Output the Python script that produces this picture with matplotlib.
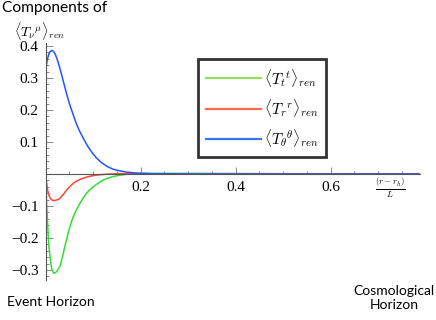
import matplotlib
matplotlib.use("Agg")
import matplotlib.pyplot as plt
from matplotlib.lines import Line2D
from matplotlib.ticker import MultipleLocator, FixedLocator

plt.rcParams['font.family'] = ['Liberation Serif', 'DejaVu Serif']
plt.rcParams['mathtext.fontset'] = 'cm'

# values
x_tt = [0, 0.001, 0.002, 0.004, 0.0055, 0.007, 0.009, 0.011, 0.0126, 0.015, 0.0175, 0.020,
        0.023, 0.026, 0.030, 0.033, 0.037, 0.040, 0.044, 0.047, 0.051, 0.055, 0.058, 0.065,
        0.072, 0.079, 0.086, 0.093, 0.100, 0.110, 0.121, 0.131, 0.142, 0.155, 0.170, 0.185,
        0.200, 0.300, 0.500, 0.788]
tt = [0, -0.045, -0.092, -0.155, -0.196, -0.23, -0.258, -0.28, -0.295, -0.306, -0.31, -0.309,
      -0.305, -0.298, -0.288, -0.272, -0.248, -0.228, -0.206, -0.185, -0.165, -0.146, -0.133, -0.111,
      -0.092, -0.075, -0.060, -0.049, -0.040, -0.029, -0.019, -0.013, -0.008, -0.004, -0.001, 0.001,
      0.002, 0.002, 0.001, 0.0005]

x_rr = [0, 0.001, 0.002, 0.004, 0.0055, 0.008, 0.011, 0.014, 0.0175, 0.021, 0.025, 0.030,
        0.037, 0.044, 0.051, 0.058, 0.065, 0.072, 0.079, 0.090, 0.100, 0.115, 0.135, 0.160,
        0.200, 0.400, 0.788]
rr = [0, -0.016, -0.03, -0.05, -0.06, -0.071, -0.078, -0.082, -0.083, -0.082, -0.080, -0.076,
      -0.064, -0.05, -0.039, -0.029, -0.022, -0.017, -0.013, -0.008, -0.005, -0.002, 0.0, 0.001,
      0.001, 0.0005, 0.0]

x_thth = [0, 0.003, 0.006, 0.009, 0.0125, 0.016, 0.020, 0.025, 0.030, 0.037, 0.045, 0.052,
          0.058, 0.065, 0.072, 0.079, 0.088, 0.097, 0.107, 0.118, 0.130, 0.142, 0.155, 0.170,
          0.190, 0.220, 0.300, 0.788]
thth = [0.325, 0.355, 0.372, 0.382, 0.386, 0.384, 0.375, 0.355, 0.330, 0.290, 0.245, 0.210,
        0.185, 0.155, 0.132, 0.112, 0.088, 0.068, 0.050, 0.035, 0.023, 0.015, 0.010, 0.006,
        0.003, 0.001, 0.0, 0.0]

labels = [r'$\langle T_{t}{}^{t}\rangle_{ren}$',
          r'$\langle T_{r}{}^{r}\rangle_{ren}$',
          r'$\langle T_{\theta}{}^{\theta}\rangle_{ren}$']

fig = plt.figure(figsize=(4.36, 3.2), dpi=100)
W, H = 436, 320
x0, x1 = 45.7, 420
y_top, y_bot = 42.8, 279.6
ax = fig.add_axes([x0 / W, 1 - y_bot / H, (x1 - x0) / W, (y_bot - y_top) / H])

ax.plot(x_tt, tt, color='#33dd33', lw=1.1)
ax.plot(x_rr, rr, color='#ff4433', lw=1.1)
ax.plot(x_thth, thth, color='#2255ff', lw=1.1)

ax.set_xlim(0, 0.788)
ax.set_ylim(-0.33, 0.41)

for s in ['top', 'right']:
    ax.spines[s].set_visible(False)
ax.spines['bottom'].set_position(('data', 0))
for s in ['bottom', 'left']:
    ax.spines[s].set_color('#555555')
    ax.spines[s].set_linewidth(0.8)

ax.xaxis.set_major_locator(FixedLocator([0.2, 0.4, 0.6]))
ax.xaxis.set_minor_locator(MultipleLocator(0.05))
ax.yaxis.set_major_locator(FixedLocator([-0.3, -0.2, -0.1, 0.1, 0.2, 0.3, 0.4]))
ax.yaxis.set_minor_locator(MultipleLocator(0.02))
ax.xaxis.set_major_formatter(plt.FuncFormatter(lambda v, p: f"{v:.1f}"))
ax.yaxis.set_major_formatter(plt.FuncFormatter(lambda v, p: f"{v:.1f}".replace('-', '\u2212')))
ax.tick_params(which='both', direction='in', color='#777777', width=0.6, labelsize=11)
ax.tick_params(which='major', length=5)
ax.tick_params(which='minor', length=2.5)
ax.tick_params(axis='x', pad=5)
ax.tick_params(axis='y', pad=5)

handles = [Line2D([], [], color=c, lw=1.6) for c in ['#99d966', '#ff6a4d', '#3377ee']]
leg = ax.legend(handles, labels, loc='upper left',
                bbox_to_anchor=((198 - x0) / (x1 - x0), 1 - (59 - y_top) / (y_bot - y_top)),
                frameon=True, fancybox=False, fontsize=11, handlelength=3.6, handletextpad=0.2,
                labelspacing=0.55, borderpad=0.5, borderaxespad=0)
leg.get_frame().set_edgecolor('black')
leg.get_frame().set_linewidth(2)

fig.text(2 / W, 1 - 12 / H, 'Components of', fontsize=11.2, family='Lato', va='baseline')
fig.text(14 / W, 1 - 31 / H, r'$\langle T_{\nu}{}^{\mu}\rangle_{ren}$', fontsize=10, va='center')
fig.text(390 / W, 1 - 188 / H, r'$\frac{(r-r_h)}{L}$', fontsize=9, ha='center', va='center')
fig.text(7 / W, 1 - 302 / H, 'Event Horizon', fontsize=10, family='Lato', va='center')
fig.text(394 / W, 1 - 298 / H, 'Cosmological\nHorizon', fontsize=10, family='Lato',
         ha='center', va='center', linespacing=1.2)

fig.savefig('out.png', dpi=100)
